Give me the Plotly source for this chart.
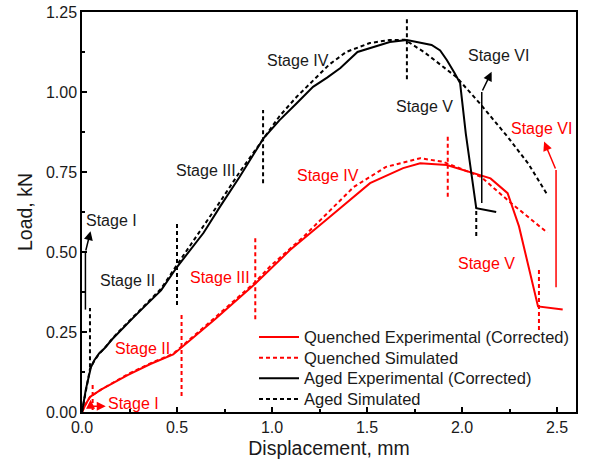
import plotly.graph_objects as go

# ---------------- data ----------------
quenched_exp_x = [0, 0.02, 0.042, 0.1, 0.24, 0.36, 0.48, 0.53, 0.7, 0.91, 1.095, 1.305, 1.516, 1.69, 1.78, 1.92, 2.04, 2.10, 2.15, 2.24, 2.30, 2.40, 2.53]
quenched_exp_y = [0, 0.025, 0.047, 0.07, 0.115, 0.15, 0.18, 0.205, 0.29, 0.40, 0.506, 0.61, 0.715, 0.762, 0.777, 0.772, 0.75, 0.738, 0.73, 0.684, 0.58, 0.33, 0.32]

quenched_sim_x = [0, 0.02, 0.042, 0.1, 0.24, 0.36, 0.48, 0.53, 0.7, 0.91, 0.99, 1.165, 1.43, 1.60, 1.78, 1.90, 2.10, 2.25, 2.45]
quenched_sim_y = [0, 0.025, 0.047, 0.07, 0.118, 0.152, 0.182, 0.207, 0.295, 0.405, 0.455, 0.547, 0.703, 0.766, 0.793, 0.782, 0.735, 0.657, 0.56]

aged_exp_x = [0, 0.02, 0.047, 0.065, 0.09, 0.12, 0.16, 0.205, 0.27, 0.33, 0.416, 0.5, 0.57, 0.64, 0.73, 0.83, 0.955, 1.04, 1.13, 1.216, 1.29, 1.36, 1.45, 1.53, 1.62, 1.71, 1.84, 1.885, 1.92, 1.96, 1.99, 2.02, 2.06, 2.075, 2.18]
aged_exp_y = [0, 0.07, 0.14, 0.162, 0.183, 0.20, 0.228, 0.256, 0.295, 0.33, 0.38, 0.453, 0.505, 0.56, 0.645, 0.735, 0.855, 0.912, 0.965, 1.016, 1.045, 1.075, 1.125, 1.14, 1.156, 1.1625, 1.147, 1.13, 1.10, 1.06, 1.028, 0.87, 0.70, 0.637, 0.625]

aged_sim_x = [0, 0.02, 0.042, 0.065, 0.09, 0.12, 0.16, 0.205, 0.27, 0.33, 0.416, 0.5, 0.57, 0.64, 0.73, 0.83, 0.955, 1.04, 1.13, 1.216, 1.30, 1.39, 1.515, 1.62, 1.70, 1.80, 1.97, 2.10, 2.24, 2.35, 2.45]
aged_sim_y = [0, 0.07, 0.135, 0.16, 0.182, 0.20, 0.23, 0.258, 0.298, 0.335, 0.385, 0.46, 0.52, 0.58, 0.66, 0.75, 0.855, 0.925, 0.985, 1.037, 1.085, 1.125, 1.153, 1.1625, 1.163, 1.125, 1.047, 0.96, 0.86, 0.775, 0.678]

# stage separators (x, lower y, upper y)
sep_black_x = [0.042, 0.5, 0.953, 1.71, 2.075]
sep_black_y0 = [0.14, 0.334, 0.715, 1.04, 0.55]
sep_black_y1 = [0.325, 0.59, 0.944, 1.235, 0.64]

sep_red_x = [0.056, 0.524, 0.912, 1.925, 2.405]
sep_red_y0 = [0.006, 0.05, 0.29, 0.673, 0.256]
sep_red_y1 = [0.094, 0.31, 0.544, 0.866, 0.45]

# stage labels
black_labels = ["Stage I", "Stage II", "Stage III", "Stage IV", "Stage V", "Stage VI"]
black_label_x = [0.01, 0.24, 0.655, 1.135, 1.80, 2.19]
black_label_y = [0.60, 0.41, 0.755, 1.10, 0.956, 1.115]

red_labels = ["Stage I", "Stage II", "Stage III", "Stage IV", "Stage V", "Stage VI"]
red_label_x = [0.27, 0.32, 0.725, 1.296, 2.13, 2.42]
red_label_y = [0.028, 0.20, 0.42, 0.74, 0.465, 0.887]

# arrow stems (vertical parts) and heads: tail -> tip
black_stem_x = [[0.018, 0.018], [2.104, 2.104]]
black_stem_y = [[0.32, 0.50], [0.653, 1.0]]
black_head_tail = [(0.018, 0.50), (2.104, 1.0)]
black_head_tip = [(0.045, 0.565), (2.156, 1.063)]

red_stem_x = [[2.495, 2.495]]
red_stem_y = [[0.39, 0.756]]
red_head_tail = [(2.495, 0.756), (0.035, 0.018), (0.045, 0.010)]
red_head_tip = [(2.432, 0.845), (0.125, 0.018), (0.045, 0.038)]

x_ticks = [0.0, 0.5, 1.0, 1.5, 2.0, 2.5]
y_ticks = [0.00, 0.25, 0.50, 0.75, 1.00, 1.25]

legend_names = ["Quenched Experimental (Corrected)", "Quenched Simulated",
                "Aged Experimental (Corrected)", "Aged Simulated"]

RED = "#ff0000"
BLK = "#000000"
TXT = "#1a1a1a"
FONT = "Arial, Liberation Sans, sans-serif"
DASH = "4px,3px"

series = [
    (quenched_exp_x, quenched_exp_y, RED, "solid"),
    (quenched_sim_x, quenched_sim_y, RED, DASH),
    (aged_exp_x, aged_exp_y, BLK, "solid"),
    (aged_sim_x, aged_sim_y, BLK, DASH),
]

fig = go.Figure()
for (xs, ys, c, d), nm in zip(series, legend_names):
    fig.add_trace(go.Scatter(x=xs, y=ys, mode="lines", name=nm, showlegend=False,
                             line=dict(color=c, width=2, dash=d)))


def seg_xy(xs, y0s, y1s):
    X, Y = [], []
    for x, a, b in zip(xs, y0s, y1s):
        X += [x, x, None]
        Y += [a, b, None]
    return X, Y


bx, by = seg_xy(sep_black_x, sep_black_y0, sep_black_y1)
fig.add_trace(go.Scatter(x=bx, y=by, mode="lines", showlegend=False, hoverinfo="skip",
                         line=dict(color=BLK, width=2, dash=DASH)))
rx, ry = seg_xy(sep_red_x, sep_red_y0, sep_red_y1)
fig.add_trace(go.Scatter(x=rx, y=ry, mode="lines", showlegend=False, hoverinfo="skip",
                         line=dict(color=RED, width=2, dash=DASH)))

for xs, ys in zip(black_stem_x, black_stem_y):
    fig.add_trace(go.Scatter(x=xs, y=ys, mode="lines", showlegend=False, hoverinfo="skip",
                             line=dict(color=BLK, width=1.5)))
for xs, ys in zip(red_stem_x, red_stem_y):
    fig.add_trace(go.Scatter(x=xs, y=ys, mode="lines", showlegend=False, hoverinfo="skip",
                             line=dict(color=RED, width=1.5)))

annotations = []
for t, x, y in zip(black_labels, black_label_x, black_label_y):
    annotations.append(dict(x=x, y=y, text=t, showarrow=False, xref="x", yref="y",
                            font=dict(family=FONT, size=16, color=TXT),
                            xanchor="left" if t == "Stage I" else "center", yanchor="middle"))
for t, x, y in zip(red_labels, red_label_x, red_label_y):
    annotations.append(dict(x=x, y=y, text=t, showarrow=False, xref="x", yref="y",
                            font=dict(family=FONT, size=16, color=RED),
                            xanchor="center", yanchor="middle"))

for (tx, ty), (hx, hy) in zip(black_head_tail, black_head_tip):
    annotations.append(dict(x=hx, y=hy, ax=tx, ay=ty, xref="x", yref="y", axref="x", ayref="y",
                            text="", showarrow=True, arrowhead=2, arrowsize=1.2,
                            arrowwidth=1.5, arrowcolor=BLK))
for (tx, ty), (hx, hy) in zip(red_head_tail, red_head_tip):
    annotations.append(dict(x=hx, y=hy, ax=tx, ay=ty, xref="x", yref="y", axref="x", ayref="y",
                            text="", showarrow=True, arrowhead=2, arrowsize=1.2,
                            arrowwidth=1.5, arrowcolor=RED))

# manual legend (paper coordinates inside the plot area)
PL, PW, PB, PH = 82, 494, 412, 400
def px2paper(px, py):
    return (px - PL) / PW, (PB - py) / PH

shapes = []
row_y = [337, 357.7, 378.3, 399]
for (xs, ys, c, d), nm, ry_ in zip(series, legend_names, row_y):
    x0, yy = px2paper(259, ry_)
    x1, _ = px2paper(299, ry_)
    xt, _ = px2paper(302, ry_)
    shapes.append(dict(type="line", xref="paper", yref="paper", x0=x0, x1=x1, y0=yy, y1=yy,
                       line=dict(color=c, width=2, dash=d)))
    annotations.append(dict(x=xt, y=yy, xref="paper", yref="paper", text=nm, showarrow=False,
                            xanchor="left", yanchor="middle",
                            font=dict(family=FONT, size=16.5, color=TXT)))

fig.update_layout(
    width=589, height=465,
    margin=dict(l=82, r=13, t=12, b=53),
    paper_bgcolor="white", plot_bgcolor="white",
    font=dict(family=FONT, size=16, color=TXT),
    showlegend=False,
    annotations=annotations,
    shapes=shapes,
)

fig.update_xaxes(range=[0, 2.6], tickvals=x_ticks, ticktext=[f"{v:.1f}" for v in x_ticks],
                 ticks="inside", ticklen=5, tickwidth=1.5, tickcolor=BLK,
                 minor=dict(dtick=0.25, tick0=0, ticks="inside", ticklen=3, tickwidth=1.5, tickcolor=BLK),
                 showline=True, linecolor=BLK, linewidth=1.5, mirror=True,
                 showgrid=False, zeroline=False, automargin=False,
                 title=dict(text="Displacement, mm", font=dict(family=FONT, size=19.5), standoff=6),
                 tickfont=dict(family=FONT, size=16))
fig.update_yaxes(range=[0, 1.25], tickvals=y_ticks, ticktext=[f"{v:.2f}" for v in y_ticks],
                 ticks="inside", ticklen=5, tickwidth=1.5, tickcolor=BLK,
                 minor=dict(dtick=0.125, tick0=0, ticks="inside", ticklen=3, tickwidth=1.5, tickcolor=BLK),
                 showline=True, linecolor=BLK, linewidth=1.5, mirror=True,
                 showgrid=False, zeroline=False, automargin=False,
                 title=dict(text="Load, kN", font=dict(family=FONT, size=19.5), standoff=8),
                 tickfont=dict(family=FONT, size=16))

fig.write_html("out.html")
